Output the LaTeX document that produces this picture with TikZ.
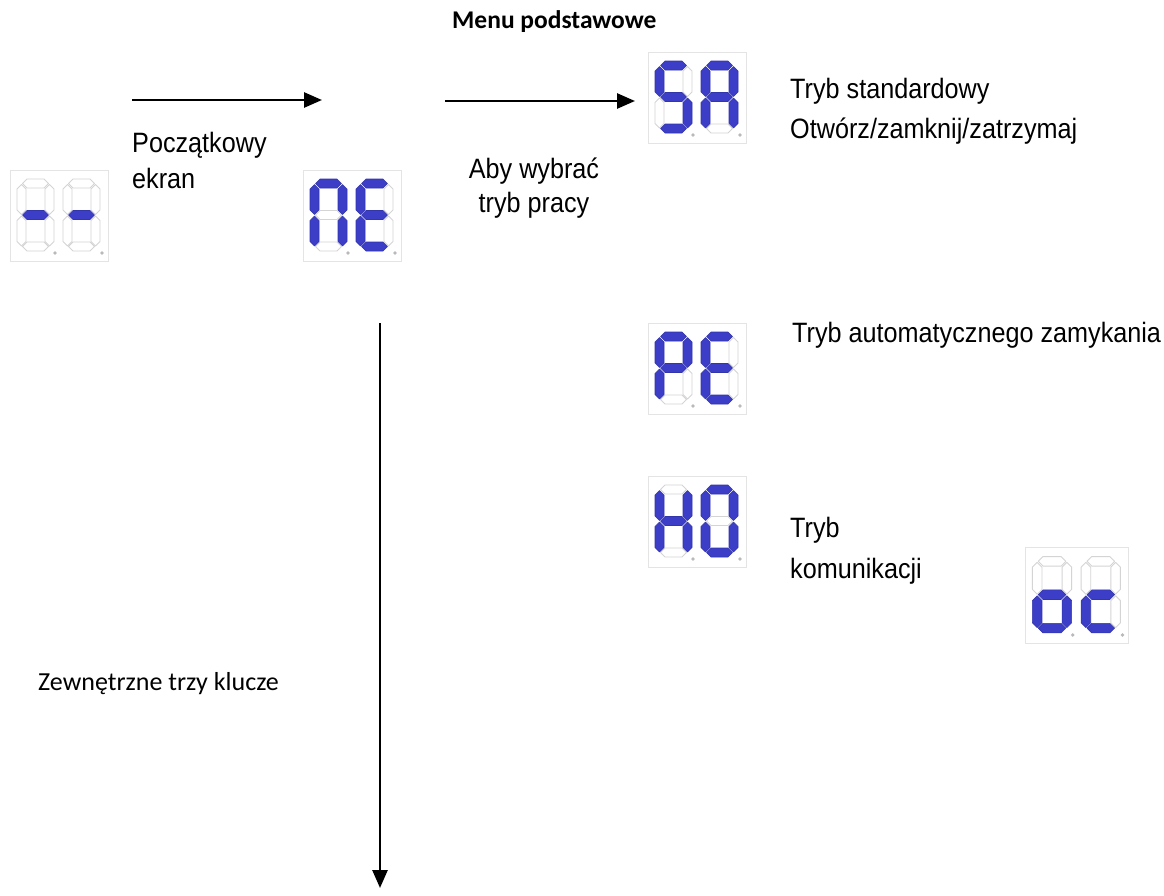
\documentclass[tikz,border=0pt]{standalone}
\usepackage{fontspec}
\usetikzlibrary{arrows.meta}
\newfontfamily\arialn[FakeStretch=0.9]{Liberation Sans}
\newfontfamily\calib{Carlito}
\definecolor{segblue}{RGB}{60,62,200}
\definecolor{segoffc}{RGB}{212,212,212}
\definecolor{boxc}{RGB}{228,228,228}
\definecolor{dotc}{RGB}{185,185,185}
\tikzset{
  seglit/.style={fill=segblue,draw=segblue!85!black,line width=0.6pt,line join=round},
  segoff/.style={draw=segoffc,line width=0.9pt,line join=round},
  dispbox/.style={draw=boxc,line width=0.8pt,inner sep=0pt,outer sep=0pt},
  arrn/.style={font=\arialn\fontsize{28}{32}\selectfont,inner sep=0pt},
  calt/.style={font=\calib\fontsize{26}{30}\selectfont,inner sep=0pt},
  calb/.style={font=\calib\bfseries\fontsize{25.5}{29}\selectfont,inner sep=0pt},
  flowarrow/.style={line width=2.6pt,-{Triangle[length=18pt,width=15pt]}}
}
\newcommand\segfill[2]{\ifnum#1=1 \filldraw[seglit] #2; \else \draw[segoff] #2; \fi}
\newcommand\hseg[2]{\segfill{#1}{(5.5,#2) -- ++(4.5,-4.5) -- ++(17,0) -- ++(4.5,4.5) -- ++(-4.5,4.5) -- ++(-17,0) -- cycle}}
\newcommand\vseg[3]{\segfill{#1}{(#2,#3) -- ++(4.5,4.5) -- ++(0,21) -- ++(-4.5,4.5) -- ++(-4.5,-4.5) -- ++(0,-21) -- cycle}}
\newcommand\sdigit[9]{\begin{scope}[shift={(#1,#2)}]
 \hseg{#3}{4.5}%
 \vseg{#4}{32.5}{5.5}%
 \vseg{#5}{32.5}{37}%
 \hseg{#6}{67.5}%
 \vseg{#7}{4.5}{37}%
 \vseg{#8}{4.5}{5.5}%
 \hseg{#9}{36}%
\end{scope}}
\newcommand\segdisp[6]{%
 \begin{scope}[shift={(#2,#3)},scale=#4]
   \node[dispbox,anchor=north west,minimum width={#4*98pt},minimum height={#4*91pt}] (#1) at (0,0) {};
   \sdigit{7}{9}#5
   \sdigit{53}{9}#6
   \fill[dotc] (45,83) circle (1.8pt);
   \fill[dotc] (92,83) circle (1.8pt);
 \end{scope}}
\begin{document}
\begin{tikzpicture}[x=1pt,y=-1pt]
\fill[white] (0,0) rectangle (1164,895);
\useasboundingbox (0,0) rectangle (1164,895);

% displays
\segdisp{dash}{10}{170}{1}{0000001}{0000001}
\segdisp{ne}{303}{170}{1}{1110110}{1001111}
\segdisp{sa}{648}{52}{1}{1011011}{1110111}
\segdisp{pe}{648}{323}{1}{1100111}{1001111}
\segdisp{ho}{648}{476}{1}{0110111}{1111110}
\segdisp{oc}{1025}{547}{1.06}{0011101}{0001101}

% texts
\node[calb,anchor=base west] (menu) at (452,28) {Menu podstawowe};
\node[arrn,anchor=base west] (pocz) at (132,152) {Początkowy};
\node[arrn,anchor=base west] (ekran) at (132,188) {ekran};
\node[arrn,anchor=base] (aby) at (534,178) {Aby wybrać};
\node[arrn,anchor=base] (tryb) at (534,212) {tryb pracy};
\node[arrn,anchor=base west] (tstd) at (790,98) {Tryb standardowy};
\node[arrn,anchor=base west] (otw) at (790,138) {Otwórz/zamknij/zatrzymaj};
\node[arrn,anchor=base west] (tauto) at (792,342) {Tryb automatycznego zamykania};
\node[arrn,anchor=base west] (tkom1) at (790,537) {Tryb};
\node[arrn,anchor=base west] (tkom2) at (790,578) {komunikacji};
\node[calt,anchor=base west] (zew) at (38,690) {Zewnętrzne trzy klucze};

% arrows
\coordinate (a1s) at (132,100);
\coordinate (a1e) at (322,100);
\coordinate (a2s) at (445,101);
\coordinate (a2e) at (635,101);
\coordinate (vs) at (380,323);
\coordinate (ve) at (380,888);
\draw[flowarrow] (a1s) -- (a1e);
\draw[flowarrow] (a2s) -- (a2e);
\draw[flowarrow] (vs) -- (ve);
\end{tikzpicture}
\end{document}
